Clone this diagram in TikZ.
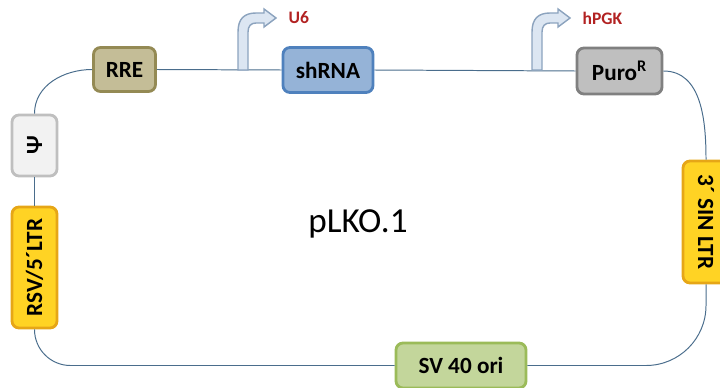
\documentclass[tikz,border=0pt]{standalone}
\usepackage{fontspec}
\setmainfont{Carlito}
\usepackage{graphicx}
\usepackage{tikz}
\definecolor{leitung}{HTML}{4A6D8C}
\definecolor{rrefill}{HTML}{C4BD97}
\definecolor{rrerand}{HTML}{948A54}
\definecolor{shfill}{HTML}{95B3D7}
\definecolor{shrand}{HTML}{4F81BD}
\definecolor{purofill}{HTML}{BFBFBF}
\definecolor{purorand}{HTML}{808080}
\definecolor{psifill}{HTML}{F2F2F2}
\definecolor{psirand}{HTML}{BFBFBF}
\definecolor{ltrfill}{HTML}{FFD324}
\definecolor{ltrrand}{HTML}{E6A617}
\definecolor{svfill}{HTML}{C3D69B}
\definecolor{svrand}{HTML}{9BBB59}
\definecolor{pfeilfill}{HTML}{DCE6F2}
\definecolor{pfeilrand}{HTML}{8CA3BE}
\definecolor{promrot}{HTML}{B22222}
\tikzset{
  element/.style={draw, rounded corners=5pt, line width=2pt, inner sep=0pt,
    font=\fontsize{16.5}{19}\selectfont\bfseries},
  promoter/.style={fill=pfeilfill, draw=pfeilrand, line width=1pt},
  promlabel/.style={promrot, inner sep=1pt, font=\fontsize{12.5}{14}\selectfont\bfseries},
  plasmid/.style={leitung, line width=0.7pt}
}

\begin{document}
\begin{tikzpicture}[x=0.025cm, y=-0.025cm]
    \useasboundingbox (0,0) rectangle (720,387);
    % Elemente oben
    \node[element, fill=rrefill, draw=rrerand, minimum width=1.55cm, minimum height=1.1cm]
      (rre) at (124.5,69.5) {RRE};
    \node[element, fill=shfill, draw=shrand, minimum width=2.25cm, minimum height=1.125cm]
      (shrna) at (328,70) {shRNA};
    \node[element, fill=purofill, draw=purorand, minimum width=2.125cm, minimum height=1.15cm]
      (puro) at (619.5,71) {Puro\textsuperscript{R}};
    % Elemente links
    \node[element, fill=psifill, draw=psirand, minimum width=1.125cm, minimum height=1.525cm]
      (psi) at (34.5,145.5) {\rotatebox{90}{Ψ}};
    \node[element, fill=ltrfill, draw=ltrrand, minimum width=1.125cm, minimum height=3.025cm]
      (rsv) at (34.5,267.5) {\rotatebox{90}{RSV/5´LTR}};
    % Elemente unten und rechts
    \node[element, fill=svfill, draw=svrand, minimum width=3.25cm, minimum height=1.125cm]
      (sv40) at (461,365.5) {SV 40 ori};
    \node[element, fill=ltrfill, draw=ltrrand, minimum width=1.15cm, minimum height=3.05cm]
      (sin) at (706,222) {\rotatebox{-90}{3´ SIN LTR}};
    % Name des Vektors
    \node[font=\fontsize{25}{30}\selectfont] (vektor) at (358,224) {pLKO.1};
    % Plasmid-Ring
    \draw[plasmid] (rre.east) -- (shrna.west);
    \draw[plasmid] (shrna.east) -- (puro.west);
    \draw[plasmid] (puro.east) to[out=0, in=90] (sin.north);
    \draw[plasmid, rounded corners=1.5cm] (sin.south) |- (sv40.east);
    \draw[plasmid, rounded corners=0.9cm] (sv40.west) -| (rsv.south);
    \draw[plasmid] (rsv.north) -- (psi.south);
    \draw[plasmid] (psi.north) to[out=90, in=180] (rre.west);
    % Promotoren
    \foreach \px/\pname/\ptext in {0/usechs/U6, 294/hpgk/hPGK} {
      \begin{scope}[shift={(\px,0)}]
        \draw[promoter] (238,70) -- (238,32)
          .. controls (238,19) and (244,13) .. (256,13) -- (264,13) -- (264,9)
          -- (276,18) -- (264,27) -- (264,23) -- (256,23)
          .. controls (251,23) and (248,26) .. (248,32) -- (248,70) -- cycle;
        \node[promlabel, anchor=west] (\pname) at (287,18) {\ptext};
      \end{scope}
    }
\end{tikzpicture}
\end{document}
